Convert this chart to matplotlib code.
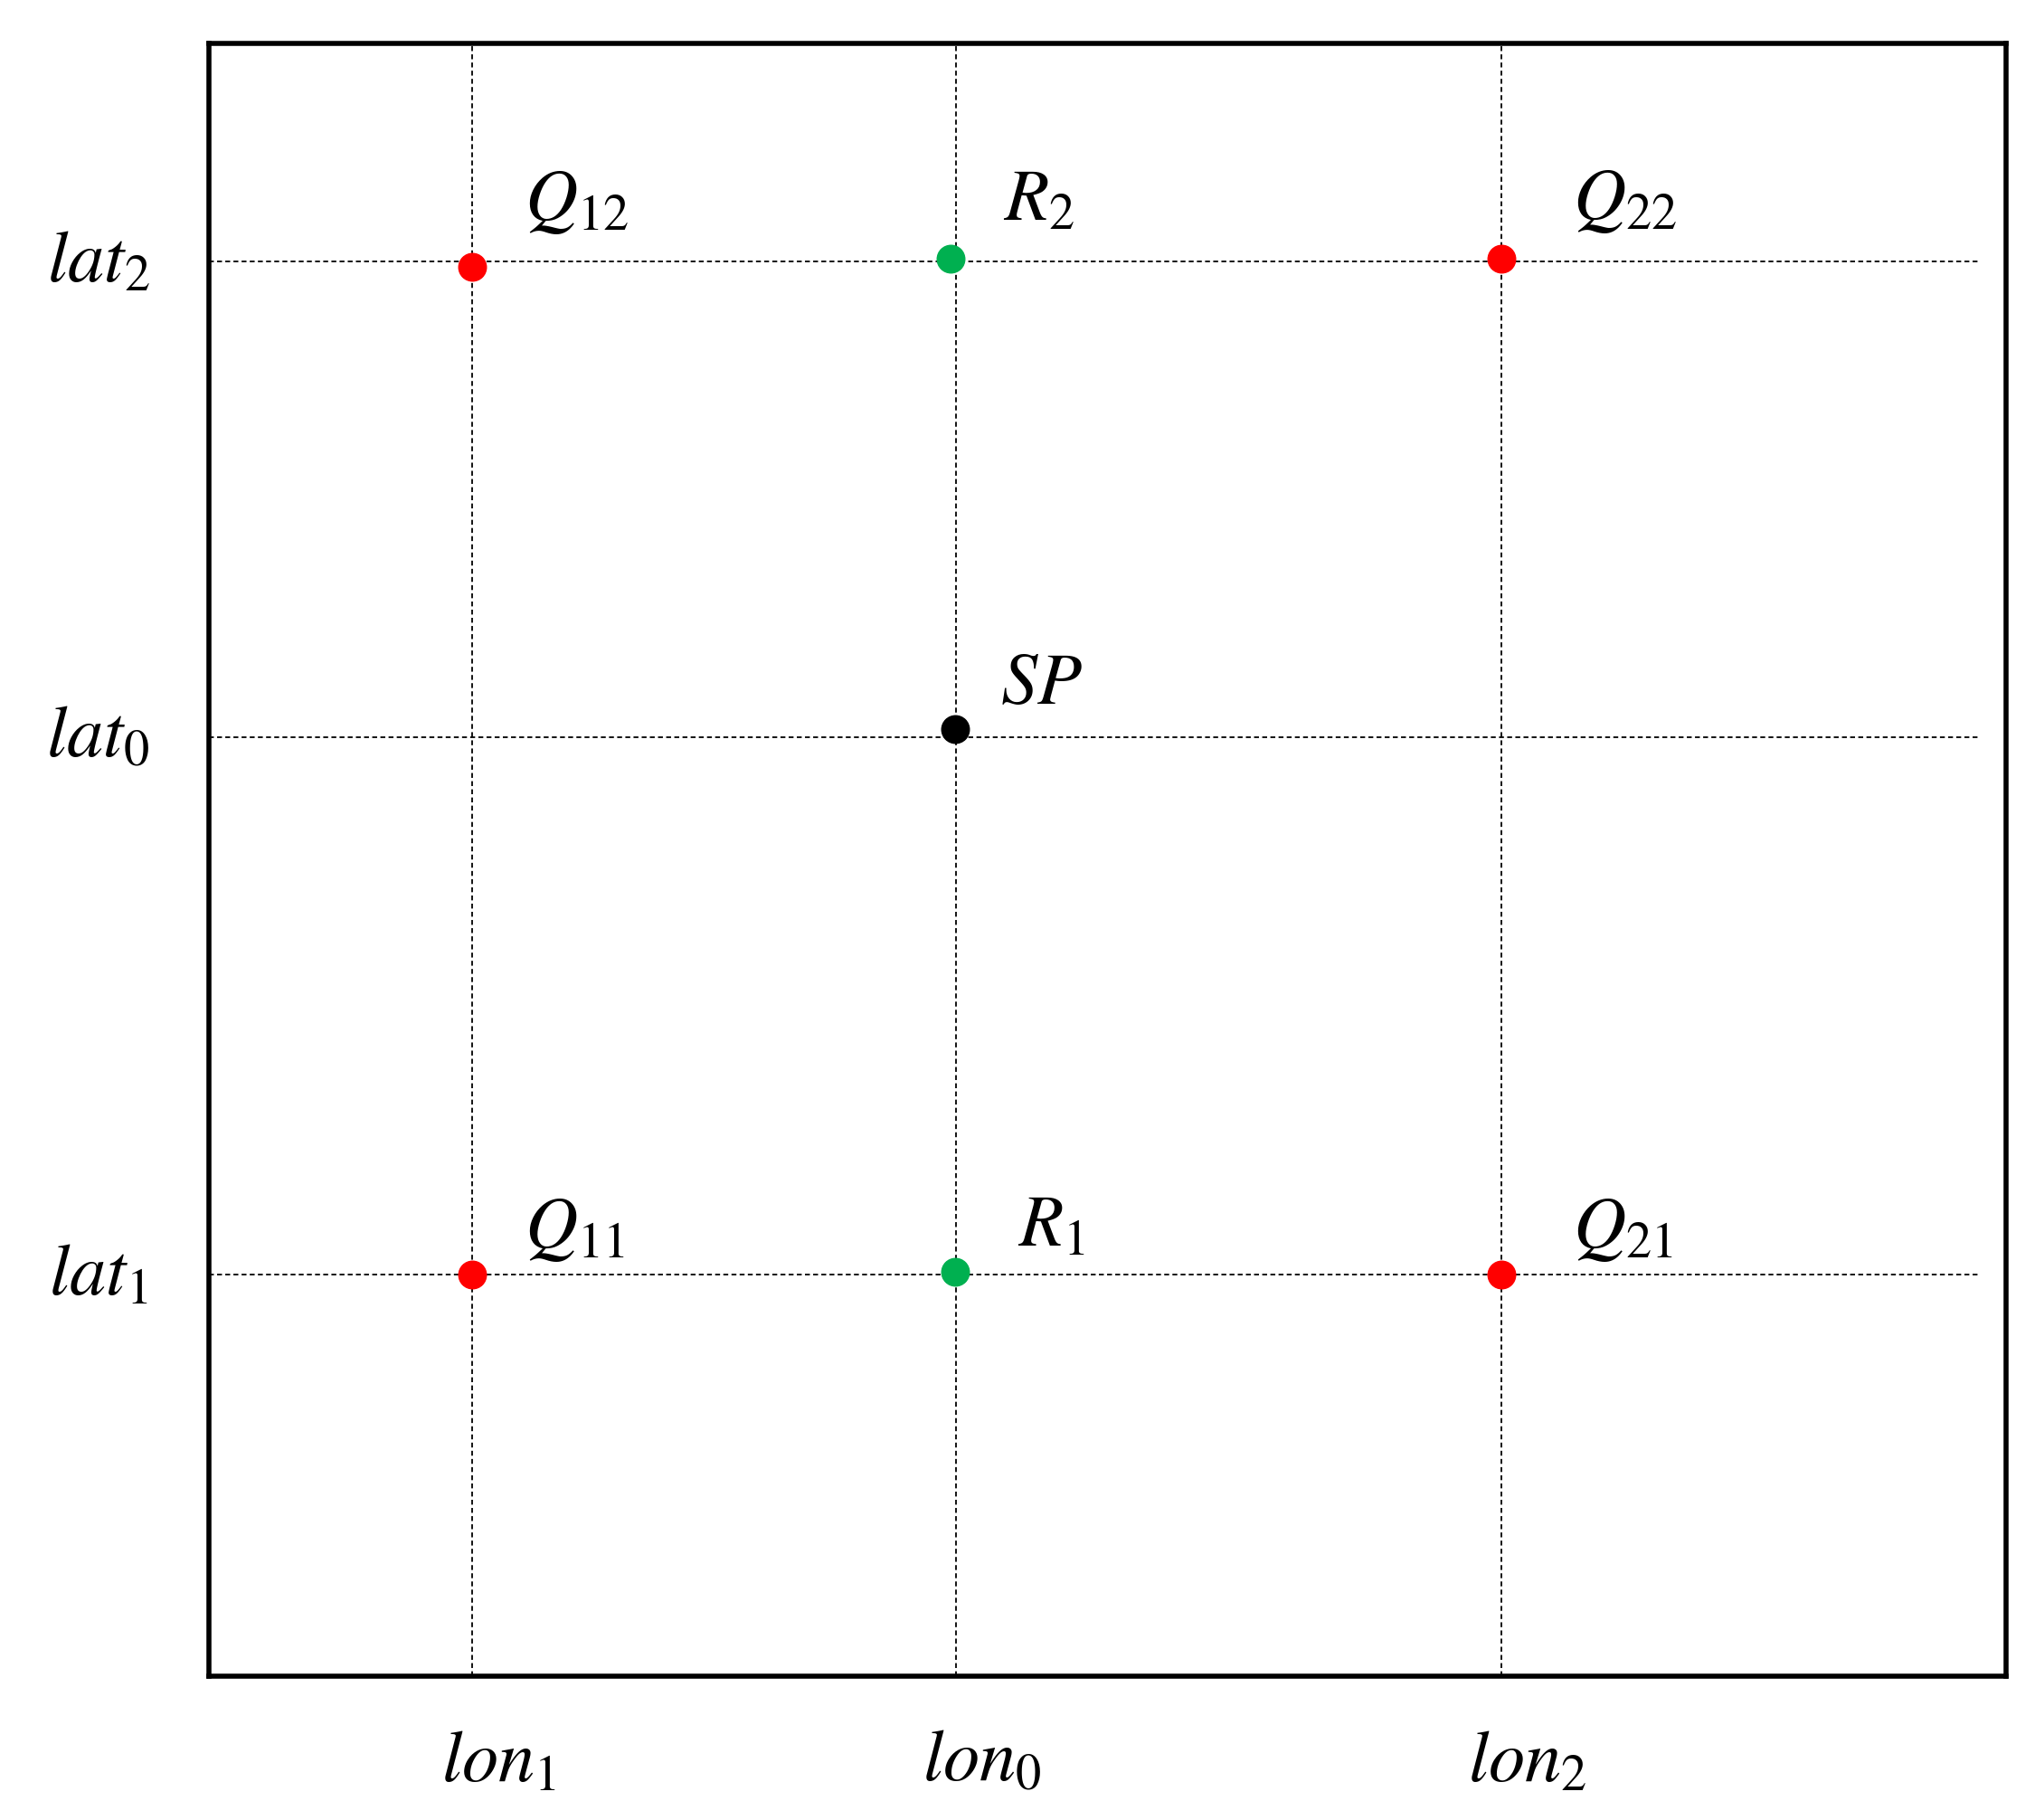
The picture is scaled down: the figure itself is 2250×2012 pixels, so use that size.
import matplotlib
matplotlib.use("Agg")
import matplotlib.pyplot as plt

plt.rcParams['mathtext.fontset'] = 'stix'

lon_names = [r'$lon_1$', r'$lon_0$', r'$lon_2$']
lon_vals = [202, 573, 991]
lat_names = [r'$lat_2$', r'$lat_0$', r'$lat_1$']
lat_vals = [1085, 720, 308]

pt_labels = [r'$Q_{12}$', r'$R_2$', r'$Q_{22}$', r'$SP$', r'$Q_{11}$', r'$R_1$', r'$Q_{21}$']
pt_x = [202, 569, 991, 572, 202, 572, 991]
pt_y = [1081, 1087, 1087, 726, 308, 310, 308]
pt_colors = ['#ff0000', '#00b050', '#ff0000', '#000000', '#ff0000', '#00b050', '#ff0000']
lbl_dx = [40, 40, 55, 35, 40, 48, 55]
lbl_dy = [50, 45, 45, 35, 35, 35, 35]

fig = plt.figure(figsize=(22.5, 20.12), dpi=100)
ax = fig.add_axes([231/2250, 1-1853/2012, (2218-231)/2250, (1853-48)/2012])
ax.set_xlim(0, 1378)
ax.set_ylim(0, 1252)
for s in ax.spines.values():
    s.set_linewidth(4)
ax.set_xticks([]); ax.set_yticks([])

for x in lon_vals:
    ax.plot([x, x], [0, 1252], ls=(0, (3, 2)), color='black', lw=1.3)
for y in lat_vals:
    ax.plot([0, 1358], [y, y], ls=(0, (3, 2)), color='black', lw=1.3)

for x, y, c in zip(pt_x, pt_y, pt_colors):
    ax.plot(x, y, 'o', color=c, markersize=22, zorder=5)
for x, y, t, dx, dy in zip(pt_x, pt_y, pt_labels, lbl_dx, lbl_dy):
    ax.text(x + dx, y + dy, t, fontsize=58, ha='left', va='center')

for x, t in zip(lon_vals, lon_names):
    ax.text(x + 20, -65, t, fontsize=58, ha='center', va='center')
for y, t in zip(lat_vals, lat_names):
    ax.text(-85, y, t, fontsize=58, ha='center', va='center')

fig.savefig('out.png', dpi=100)
